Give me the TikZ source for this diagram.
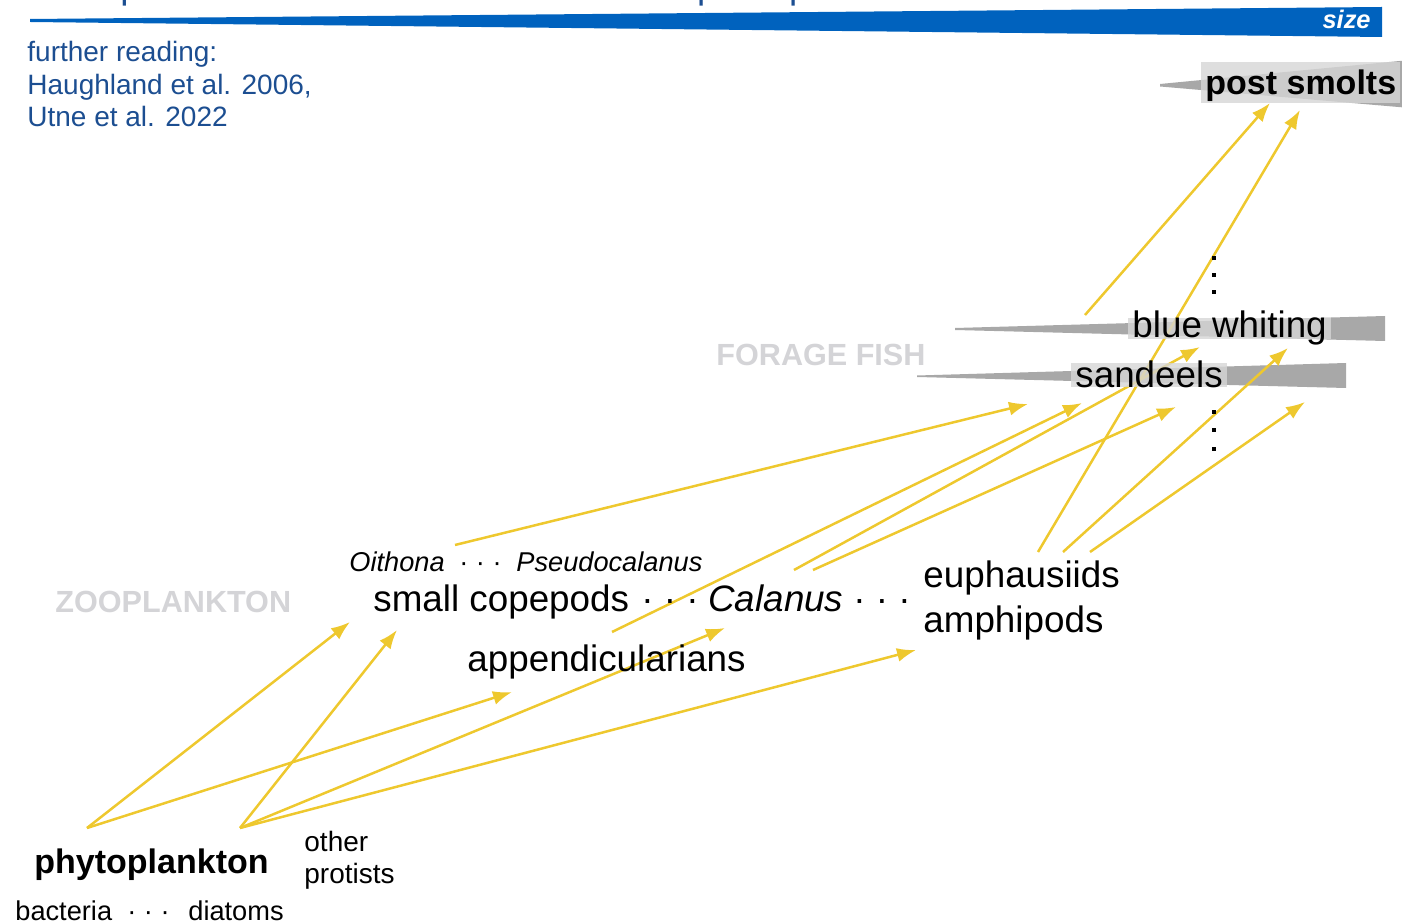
\documentclass[tikz,border=0pt]{standalone}
\usepackage{fontspec}
\setmainfont{Liberation Sans}
\usetikzlibrary{arrows.meta}
\definecolor{bandblue}{RGB}{0,98,190}
\definecolor{readblue}{RGB}{28,78,145}
\definecolor{feedyellow}{RGB}{238,200,46}
\definecolor{wedgegray}{RGB}{168,168,168}
\definecolor{boxgray}{RGB}{214,214,214}
\definecolor{ghostgray}{RGB}{212,212,215}
\pgfdeclarelayer{wedges}
\pgfdeclarelayer{feeding}
\pgfsetlayers{wedges,feeding,main}
\tikzset{lbl/.style = {inner sep=0, anchor=base west, font=\fontsize{18.4}{22}\selectfont},
  minor/.style = {lbl, font=\fontsize{13.6}{16}\selectfont},
  group/.style = {lbl, text=ghostgray, font=\fontsize{15.3}{18}\selectfont\bfseries},
  fish/.style = {lbl, fill=boxgray, fill opacity=.8, text opacity=1, inner xsep=2pt},
  feeds/.style = {draw=feedyellow, line width=1.25pt, -{Latex[length=9.5pt,width=7pt]}}}

\begin{document}
\begin{tikzpicture}[x=.5pt, y=-.5pt]
  \useasboundingbox (0,0) rectangle (1402,924);
  % heading and size scale
  \node[lbl, text=readblue] (title) at (28,-1) {A simplified food chain for Southern European post smolts};
  \fill[bandblue] (30,19) -- (1382,7) -- (1382,37) -- (30,22) -- cycle;
  \node[anchor=base east, inner sep=0, text=white,
    font=\fontsize{12.7}{15}\selectfont\bfseries\itshape] (sizelbl) at (1371,29) {size};
  \node[lbl, text=readblue, font=\fontsize{14}{16.25}\selectfont, align=left] (reading) at (27,127)
    {further reading:\\ Haughland et al. 2006,\\ Utne et al. 2022};
  \node[group] (zoo) at (55,612) {ZOOPLANKTON};
  \node[group] (forage) at (716,366) {FORAGE FISH};

  \begin{pgfonlayer}{wedges}
    \fill[wedgegray] (1160,84) -- (1410,60) -- (1410,108) -- (1160,86.5) -- cycle;
    \fill[wedgegray] (955,328) -- (1385,316) -- (1385,341) -- (955,330) -- cycle;
    \fill[wedgegray] (917,375.5) -- (1346,363) -- (1346,388) -- (917,377) -- cycle;
  \end{pgfonlayer}
  \foreach \y in {258,275,292,412,430,449}
    \fill (1212,\y-2) rectangle ++(4,4);

  % zooplankton
  \node[minor] (oithona) at (349,571) {\itshape Oithona};
  \node[minor] (dotsA) at (459,571) {· · ·};
  \node[minor] (pseudocal) at (516,571) {\itshape Pseudocalanus};
  \node[lbl] (copepods) at (373,611) {small copepods};
  \node[lbl] (dotsB) at (641,611) {· · ·};
  \node[lbl] (calanus) at (708,611) {\itshape Calanus};
  \node[lbl] (dotsC) at (853,611) {· · ·};
  \node[lbl] (euphaus) at (923,588) {euphausiids};
  \node[lbl] (amphipods) at (923,632) {amphipods};
  \node[lbl] (appendic) at (467,671) {appendicularians};

  % primary producers
  \node[lbl, font=\fontsize{17}{20}\selectfont\bfseries] (phyto) at (34,873) {phytoplankton};
  \node[minor, font=\fontsize{14}{16}\selectfont, align=left] (protists) at (304,883) {other\\protists};
  \node[minor] (bacteria) at (15,920) {bacteria};
  \node[minor] (dotsD) at (127,920) {· · ·};
  \node[minor] (diatoms) at (188,920) {diatoms};

  % forage fish and post smolts
  \node[fish, text height=10pt, text depth=.75pt] (whiting) at (1128,338) {blue whiting};
  \node[fish, text height=12pt, text depth=0pt] (sandeels) at (1071,387.5) {sandeels};
  \node[fish, font=\fontsize{17}{20}\selectfont\bfseries, text height=16.5pt, text depth=4pt]
    (smolts) at (1201,95) {post smolts};

  \begin{pgfonlayer}{feeding}
    \draw[feeds] ([shift={(53,-45)}]phyto.base west) -- ([shift={(-23,11)}]copepods.base west);
    \draw[feeds] ([shift={(53,-45)}]phyto.base west) -- ([shift={(45,21)}]appendic.base west);
    \draw[feeds] ([shift={(206,-45)}]phyto.base west) -- ([shift={(24,19)}]copepods.base west);
    \draw[feeds] ([shift={(206,-45)}]phyto.base west) -- ([shift={(17,17)}]calanus.base west);
    \draw[feeds] ([shift={(206,-45)}]phyto.base west) -- ([shift={(-7,18)}]amphipods.base west);
    \draw[feeds] ([shift={(106,-26)}]oithona.base west) -- ([shift={(-43,16.5)}]sandeels.base west);
    \draw[feeds] ([shift={(145,-39)}]appendic.base west) -- ([shift={(11,15.5)}]sandeels.base west);
    \draw[feeds] ([shift={(86,-41)}]calanus.base west) -- ([shift={(72,9)}]whiting.base west);
    \draw[feeds] ([shift={(105,-41)}]calanus.base west) -- ([shift={(105,19.5)}]sandeels.base west);
    \draw[feeds] ([shift={(115,-36)}]euphaus.base west) -- ([shift={(99,15)}]smolts.base west);
    \draw[feeds] ([shift={(140,-36)}]euphaus.base west) -- ([shift={(160,10)}]whiting.base west);
    \draw[feeds] ([shift={(167,-36)}]euphaus.base west) -- ([shift={(234,14.5)}]sandeels.base west);
    \draw[feeds] ([shift={(-43,-23)}]whiting.base west) -- ([shift={(69,8)}]smolts.base west);
  \end{pgfonlayer}
\end{tikzpicture}
\end{document}
